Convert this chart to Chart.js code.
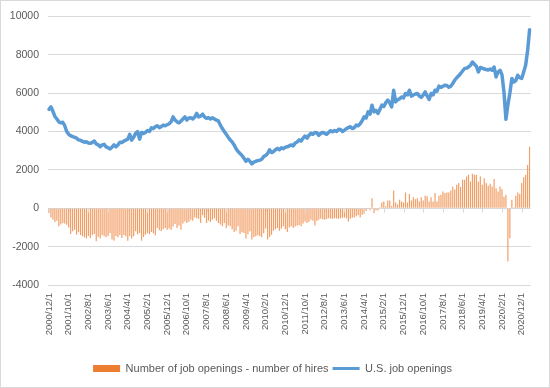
<!DOCTYPE html>
<html><head><meta charset="utf-8">
<script src="https://cdn.jsdelivr.net/npm/chart.js@4/dist/chart.umd.min.js"></script>
<style>
html,body{margin:0;padding:0;background:#fff;}
#wrap{width:550px;height:388px;box-sizing:border-box;border:1px solid #d9d9d9;}
canvas{display:block;}
</style></head><body>
<div id="wrap"><canvas id="c" width="548" height="386"></canvas></div>
<script>
// Monthly categories from 2000/12/1 to 2021/4/1
const startYear = 2000, startMonth = 12, monthCount = 245;
const months = [];
for (let k = 0; k < monthCount; k++) {
  const m0 = startMonth - 1 + k;
  months.push((startYear + Math.floor(m0 / 12)) + '/' + (m0 % 12 + 1) + '/1');
}
const labelEvery = 10;

// U.S. job openings (thousands)
const jobOpenings = [
  5150,5280,5050,4780,4650,4500,4450,4480,4300,4000,3850,3780,3730,
  3700,3650,3560,3540,3480,3440,3460,3400,3380,3430,3500,3350,
  3300,3210,3300,3330,3200,3150,3090,3180,3300,3200,3300,3440,
  3420,3500,3550,3600,3850,3550,3700,3900,3990,3600,3950,3900,
  3950,4050,4000,4190,4150,4250,4300,4200,4250,4330,4300,4350,
  4400,4500,4760,4600,4500,4450,4540,4650,4760,4600,4700,4710,
  4650,4750,4940,4760,4800,4900,4750,4680,4720,4650,4710,4650,
  4590,4550,4330,4150,4000,3850,3700,3560,3450,3300,3100,2950,
  2850,2750,2600,2450,2550,2450,2310,2400,2450,2480,2500,2550,
  2690,2750,2850,3040,2900,2950,3050,3120,3050,3150,3100,3180,
  3200,3250,3300,3250,3400,3450,3560,3500,3650,3760,3650,3800,
  3900,3850,3950,3930,3800,3900,3950,3900,3850,3950,4040,3980,
  4050,4000,4110,4100,4000,4070,4150,4200,4250,4150,4200,4330,
  4300,4400,4560,4760,4700,5020,4900,5370,5020,5100,4940,5150,
  5370,5300,5500,5630,5500,5280,6150,5540,5650,5700,5800,5750,
  5980,5900,6150,5840,5900,5950,5980,5850,5770,5900,6060,5850,
  5670,5980,5900,6150,6100,6360,6300,6350,6410,6400,6300,6360,
  6500,6670,6800,6900,7020,7150,7280,7300,7360,7450,7620,7500,
  7400,7100,7330,7300,7250,7230,7200,7250,7190,7360,6840,7100,
  7190,6950,6050,4630,5400,6000,6760,6580,6650,6930,6800,6760,
  7100,7450,8200,9300
];

// Number of job openings - number of hires (thousands)
const openingsMinusHires = [
  -250,-480,-600,-720,-650,-940,-850,-770,-800,-860,-1000,-1340,-1200,
  -1120,-1380,-1250,-1400,-1460,-1510,-1580,-1450,-1550,-1400,-1340,-1720,
  -1500,-1580,-1400,-1460,-1510,-1450,-1290,-1630,-1690,-1450,-1510,-1400,
  -1550,-1400,-1460,-1690,-1450,-1580,-1460,-1200,-1350,-1290,-1690,-1500,
  -1380,-1300,-1350,-1240,-1300,-1410,-1030,-1150,-1200,-1100,-1030,-1120,
  -1050,-1120,-950,-820,-1030,-900,-1120,-800,-690,-770,-700,-600,
  -650,-480,-520,-550,-770,-370,-500,-770,-650,-720,-600,-520,
  -650,-770,-850,-940,-770,-1030,-900,-940,-1100,-1240,-1170,-940,
  -1340,-1250,-1290,-1580,-1350,-1200,-1630,-1500,-1460,-1410,-1450,-1510,
  -1300,-1060,-1630,-1500,-1380,-1170,-1100,-1030,-1170,-1050,-940,-1100,
  -1240,-1000,-940,-1030,-950,-900,-880,-940,-800,-690,-770,-700,
  -600,-650,-900,-660,-600,-550,-580,-600,-560,-520,-540,-550,
  -520,-530,-550,-520,-500,-480,-520,-690,-550,-500,-480,-420,
  -370,-480,-340,-290,-150,-20,-100,520,-250,-100,-120,50,
  300,350,100,400,400,120,920,300,200,440,350,300,
  820,300,740,400,570,470,520,350,570,400,650,620,
  350,570,350,790,350,650,700,870,790,820,820,920,
  1130,970,1220,1310,1100,1480,1480,1650,1740,1390,1790,1740,
  1740,1390,1650,1220,1560,1310,1170,1270,1130,1520,1040,870,
  1130,990,600,700,-2770,-1560,440,50,650,820,740,1310,
  1620,1740,2250,3200
];

const yMin = -4000, yMax = 10000, yStep = 2000;

const FONT = 'Liberation Sans';
Chart.defaults.font.family = FONT;
Chart.defaults.color = '#595959';

const zeroTicks = {
  id: 'zeroTicks',
  afterDatasetsDraw(chart) {
    const {ctx, scales: {x, y}} = chart;
    const y0 = Math.round(y.getPixelForValue(0)) + 0.5;
    ctx.save();
    ctx.strokeStyle = '#d9d9d9';
    ctx.lineWidth = 1;
    ctx.beginPath();
    for (let i = 0; i < months.length; i += labelEvery) {
      const px = Math.round(x.getPixelForValue(i)) + 0.5;
      ctx.moveTo(px, y0);
      ctx.lineTo(px, y0 + 4);
    }
    ctx.stroke();
    ctx.restore();
  }
};

new Chart(document.getElementById('c'), {
  data: {
    labels: months,
    datasets: [
      {
        type: 'bar',
        label: 'Number of job openings - number of hires',
        data: openingsMinusHires,
        backgroundColor: '#F29D64',
        borderWidth: 0,
        barPercentage: 0.6,
        categoryPercentage: 1,
        pointStyle: 'rect'
      },
      {
        type: 'line',
        label: 'U.S. job openings',
        data: jobOpenings,
        borderColor: '#5B9BD5',
        backgroundColor: '#5B9BD5',
        borderWidth: 3.5,
        pointRadius: 0,
        tension: 0,
        borderJoinStyle: 'round',
        borderCapStyle: 'round',
        pointStyle: 'line'
      }
    ]
  },
  options: {
    responsive: false,
    animation: false,
    devicePixelRatio: 1,
    layout: { padding: { top: 14, right: 14, left: 9, bottom: 3 } },
    plugins: {
      legend: {
        position: 'bottom',
        labels: {
          usePointStyle: true,
          pointStyleWidth: 27,
          boxHeight: 7,
          padding: 4,
          color: '#595959',
          font: { family: FONT, size: 11 },
          generateLabels: chart => {
            const items = Chart.defaults.plugins.legend.labels.generateLabels(chart);
            items[0].fillStyle = '#ED7D31';
            items[1].lineWidth = 3;
            return items;
          }
        }
      },
      tooltip: { enabled: false }
    },
    scales: {
      x: {
        grid: { display: false, drawTicks: false },
        border: { display: false },
        ticks: {
          autoSkip: false,
          minRotation: 90,
          maxRotation: 90,
          padding: 8,
          color: '#595959',
          font: { family: FONT, size: 9.5 },
          callback: (v, i) => (i % labelEvery === 0 ? months[i] : '')
        },
        afterFit: s => { s.height = 74; }
      },
      y: {
        min: yMin,
        max: yMax,
        ticks: {
          stepSize: yStep, padding: 9, color: '#595959',
          font: { family: FONT, size: 10.5 },
          callback: v => String(v)
        },
        grid: { color: '#d9d9d9', drawTicks: false },
        border: { display: false },
        afterFit: s => { s.width = 38; }
      }
    }
  },
  plugins: [zeroTicks]
});
</script>
</body></html>
